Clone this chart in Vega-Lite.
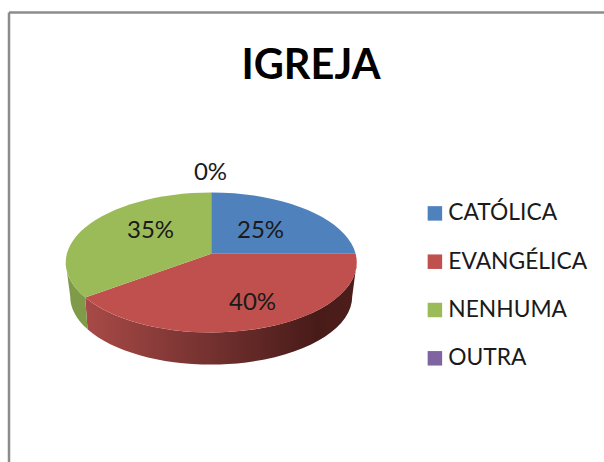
{
  "$schema": "https://vega.github.io/schema/vega-lite/v6.json",
  "width": 595,
  "height": 450,
  "autosize": "none",
  "padding": {"left": 8.5, "top": 12, "right": 0, "bottom": 0},
  "background": "white",
  "config": {"view": {"stroke": null}, "font": "Lato"},
  "title": {"text": "IGREJA", "font": "Lato", "fontSize": 41.5, "fontWeight": "bold", "color": "#000000", "anchor": "middle", "frame": "group", "dx": 5, "dy": 79},
  "data": {"values": [
    {"igreja": "CATÓLICA", "share": 0.25},
    {"igreja": "EVANGÉLICA", "share": 0.40},
    {"igreja": "NENHUMA", "share": 0.35},
    {"igreja": "OUTRA", "share": 0}
  ]},
  "encoding": {
    "x": {"datum": 0.3407, "type": "quantitative", "scale": {"domain": [0, 1], "nice": false}, "axis": {"orient": "top", "title": null, "labels": false, "ticks": false, "grid": false, "domain": true, "domainColor": "#8c8c8c", "domainWidth": 2.5}},
    "y": {"datum": 0.5373, "type": "quantitative", "scale": {"domain": [1, 0], "nice": false}, "axis": {"orient": "left", "title": null, "labels": false, "ticks": false, "grid": false, "domain": true, "domainColor": "#8c8c8c", "domainWidth": 2.5}}
  },
  "layer": [
    {
      "transform": [{"filter": "datum.igreja === 'EVANGÉLICA'"}],
      "mark": {"type": "point", "filled": true, "opacity": 1, "size": 4, "strokeWidth": 0,
        "shape": "M145.5,8.7 A145.5,70 0 0 1 -126,43.7 L-123.7,75.4 A141,68 0 0 0 141,42.7 Z",
        "fill": {"gradient": "linear", "x1": 0, "y1": 0, "x2": 1, "y2": 0, "stops": [
          {"offset": 0, "color": "#a84a47"},
          {"offset": 0.5, "color": "#6f2f2d"},
          {"offset": 0.85, "color": "#481b19"},
          {"offset": 1, "color": "#4d1d1b"}
        ]}}
    },
    {
      "transform": [{"filter": "datum.igreja === 'NENHUMA'"}],
      "mark": {"type": "point", "filled": true, "opacity": 1, "size": 4, "strokeWidth": 0,
        "shape": "M-145.5,8.7 L-141,42.7 A141,68 0 0 0 -123.7,75.4 L-126,43.7 A145.5,70 0 0 1 -145.5,8.7 Z",
        "fill": "#7f9a48"}
    },
    {
      "transform": [{"filter": "datum.igreja === 'CATÓLICA'"}],
      "mark": {"type": "point", "filled": true, "opacity": 1, "size": 4, "strokeWidth": 0, "shape": "M0,0 L0,-61.3 A145.5,70 0 0 1 144.4,0 Z"},
      "encoding": {
        "color": {"field": "igreja", "type": "nominal",
          "scale": {"domain": ["CATÓLICA", "EVANGÉLICA", "NENHUMA", "OUTRA"], "range": ["#4f81bd", "#c0504d", "#9bbb59", "#8064a2"]},
          "legend": {"title": null, "orient": "none", "legendX": 415, "legendY": 190, "symbolType": "square", "symbolSize": 210, "symbolStrokeWidth": 0, "labelFont": "Lato", "labelFontSize": 22.8, "labelColor": "#1a1a1a", "labelOffset": 2, "rowPadding": 24.3, "padding": 0}}
      }
    },
    {
      "transform": [{"filter": "datum.igreja === 'EVANGÉLICA'"}],
      "mark": {"type": "point", "filled": true, "opacity": 1, "size": 4, "strokeWidth": 0, "shape": "M0,0 L144.4,0 A145.5,70 0 0 1 -126,43.7 Z"},
      "encoding": {"color": {"field": "igreja", "type": "nominal"}}
    },
    {
      "transform": [{"filter": "datum.igreja === 'NENHUMA'"}],
      "mark": {"type": "point", "filled": true, "opacity": 1, "size": 4, "strokeWidth": 0, "shape": "M0,0 L-126,43.7 A145.5,70 0 0 1 0,-61.3 Z"},
      "encoding": {"color": {"field": "igreja", "type": "nominal"}}
    },
    {"transform": [{"filter": "datum.igreja === 'CATÓLICA'"}], "mark": {"type": "text", "font": "Lato", "fontSize": 24, "color": "#1a1a1a", "baseline": "middle", "dx": 49.3, "dy": -22.8}, "encoding": {"text": {"field": "share", "type": "quantitative", "format": ".0%"}}},
    {"transform": [{"filter": "datum.igreja === 'EVANGÉLICA'"}], "mark": {"type": "text", "font": "Lato", "fontSize": 24, "color": "#1a1a1a", "baseline": "middle", "dx": 41.3, "dy": 48.9}, "encoding": {"text": {"field": "share", "type": "quantitative", "format": ".0%"}}},
    {"transform": [{"filter": "datum.igreja === 'NENHUMA'"}], "mark": {"type": "text", "font": "Lato", "fontSize": 24, "color": "#1a1a1a", "baseline": "middle", "dx": -60.7, "dy": -22.8}, "encoding": {"text": {"field": "share", "type": "quantitative", "format": ".0%"}}},
    {"transform": [{"filter": "datum.igreja === 'OUTRA'"}], "mark": {"type": "text", "font": "Lato", "fontSize": 24, "color": "#1a1a1a", "baseline": "middle", "dx": -0.7, "dy": -80.5}, "encoding": {"text": {"field": "share", "type": "quantitative", "format": ".0%"}}}
  ]
}
